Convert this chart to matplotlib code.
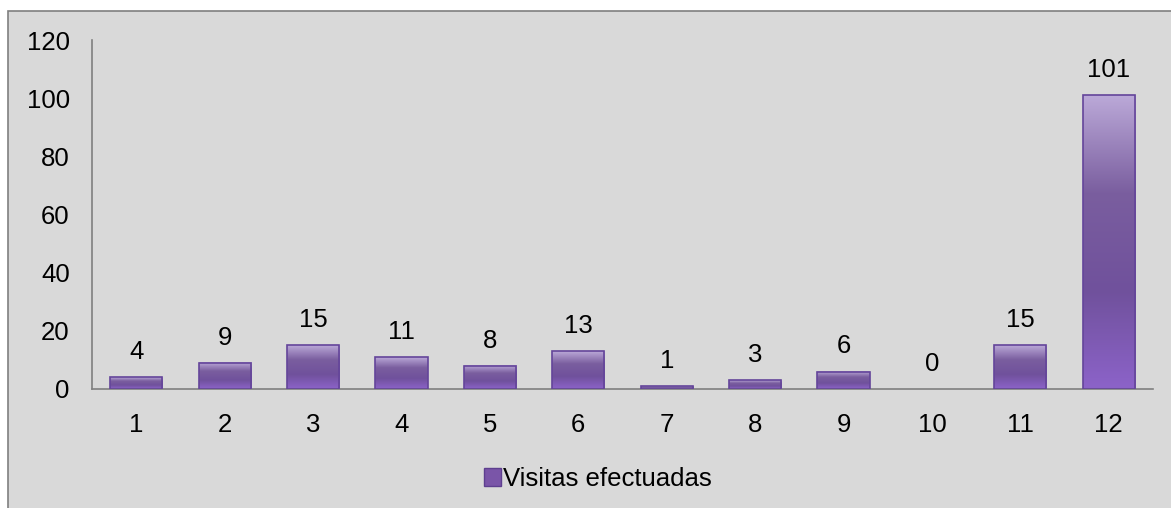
import numpy as np
import matplotlib.pyplot as plt
from matplotlib.patches import Rectangle
from matplotlib.colors import LinearSegmentedColormap

categorias = ['1', '2', '3', '4', '5', '6', '7', '8', '9', '10', '11', '12']
visitas = [4, 9, 15, 11, 8, 13, 1, 3, 6, 0, 15, 101]

plt.rcParams['font.family'] = ['Liberation Sans', 'DejaVu Sans']

fig = plt.figure(figsize=(11.71, 5.08), dpi=100)
fig.patch.set_facecolor('white')
fig.patches.append(Rectangle((8 / 1171, -0.01), 1.01, 1 - 11 / 508 + 0.01,
                             transform=fig.transFigure, facecolor='#d9d9d9',
                             edgecolor='#7f7f7f', linewidth=1.2, zorder=-5))

ax = fig.add_axes([92 / 1171, 1 - 389 / 508, (1153 - 92) / 1171, (389 - 40) / 508])
ax.set_facecolor('none')

x = np.arange(len(categorias))
bars = ax.bar(x, visitas, width=0.59, color='#7a5a9e', edgecolor='#64459a',
              linewidth=1.2, label='Visitas efectuadas', zorder=3)

# degradado morado dentro de cada barra
cmap = LinearSegmentedColormap.from_list('morado', ['#8c63c9', '#70519c', '#7a5e9f', '#bba9d8'])
grad = np.linspace(0, 1, 256).reshape(-1, 1)
for b in bars:
    h = b.get_height()
    if h <= 0:
        b.set_linewidth(0)
        continue
    ax.imshow(grad, cmap=cmap, origin='lower', aspect='auto',
              extent=[b.get_x(), b.get_x() + b.get_width(), 0, h],
              zorder=2.5, interpolation='bilinear')
    b.set_facecolor('none')

for xi, v in zip(x, visitas):
    ax.text(xi, v + 4.5, str(v), ha='center', va='bottom', fontsize=18.5, color='black')

ax.set_xlim(-0.5, len(categorias) - 0.5)
ax.set_ylim(0, 120)
ax.set_yticks(range(0, 121, 20))
ax.set_xticks(x)
ax.set_xticklabels(categorias)
ax.tick_params(axis='both', length=0, labelsize=18.5, colors='black')
ax.tick_params(axis='y', pad=16)
ax.tick_params(axis='x', pad=17)
for s in ['top', 'right']:
    ax.spines[s].set_visible(False)
ax.spines['left'].set_color('#808080')
ax.spines['bottom'].set_color('#808080')
ax.spines['left'].set_linewidth(1.2)
ax.spines['bottom'].set_linewidth(1.2)

leg = fig.legend(handles=[Rectangle((0, 0), 1, 1, facecolor='#7a55a8', edgecolor='#5e3f8f')],
                 labels=['Visitas efectuadas'], loc='center', bbox_to_anchor=(598 / 1171, 1 - 479 / 508),
                 frameon=False, fontsize=18.5, handlelength=0.65, handleheight=0.65, handletextpad=0.1)

fig.savefig('out.png', dpi=100)
